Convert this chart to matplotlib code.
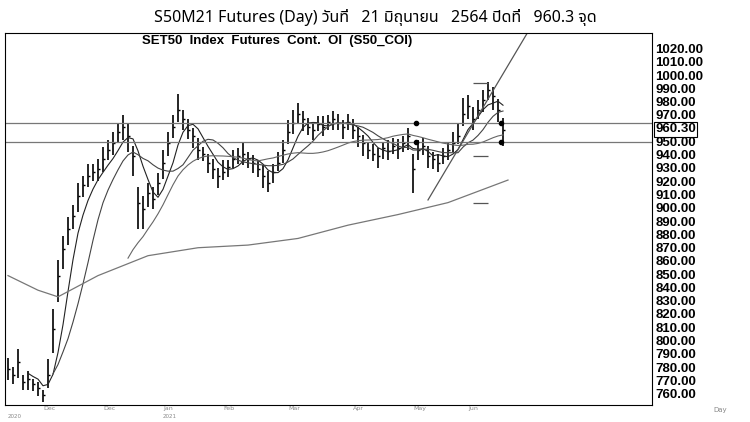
import matplotlib
matplotlib.use("Agg")
import matplotlib.pyplot as plt
import numpy as np

close = [780,775,785,770,772,768,765,760,775,810,850,870,885,895,910,918,925,928,930,938,
         945,950,958,962,955,940,905,900,912,908,920,935,950,962,975,968,960,955,945,942,
         935,930,925,928,932,938,940,942,938,935,930,925,920,928,935,945,958,965,972,968,
         962,960,964,962,966,968,965,962,966,960,955,950,945,942,940,946,944,948,946,950,
         955,930,945,948,940,938,935,940,945,950,955,972,978,968,975,982,990,985,975,960]
hi_off = [8,6,10,5,6,4,5,4,12,15,12,10,9,8,10,7,9,6,8,9,
          7,8,6,9,10,8,12,10,8,9,7,10,8,9,12,7,8,6,9,5,
          7,8,6,9,5,7,6,8,5,6,7,8,9,6,8,7,9,10,8,6,
          7,5,6,8,5,6,7,5,6,8,7,6,5,7,6,5,8,6,7,5,
          6,12,7,6,8,5,7,6,5,8,9,12,8,9,7,8,6,7,8,9]
lo_off = [9,7,12,6,8,5,6,5,10,18,20,15,12,10,12,9,8,7,9,10,
          8,9,7,10,12,15,20,15,10,8,9,12,10,8,9,8,7,9,8,6,
          8,7,9,6,8,7,6,9,7,8,6,9,7,8,6,10,9,8,7,9,
          6,8,5,7,6,8,5,9,6,7,8,10,7,6,9,8,7,6,8,7,
          10,18,8,7,9,8,7,6,8,7,6,9,10,8,7,9,8,10,9,12]
ma_long_idx = [0,6,10,18,28,38,48,58,68,78,88,100]
ma_long = [850,839,834,850,865,871,873,878,888,896,905,922]
yticks = list(range(760, 1030, 10))
months = ["Dec","Dec","Jan","Feb","Mar","Apr","May","Jun"]
month_idx = [7,19,31,43,56,69,81,92]
last_price = 960.30

fig = plt.figure(figsize=(7.5,4.22), dpi=100)
ax = fig.add_axes([5/750, 1-405/422, 647/750, 372/422])
x = np.arange(len(close))
c = np.array(close); h = c+np.array(hi_off); l = c-np.array(lo_off)
ax.vlines(x, l, h, color="black", lw=1.2)
ax.hlines(c, x, x+0.4, color="black", lw=1)
s = np.convert_to_tensor if False else None
for w, col in [(5,"#222"),(10,"#444"),(25,"#666")]:
    ma = np.convolve(c, np.ones(w)/w, mode="valid")
    ax.plot(x[w-1:], ma, color=col, lw=0.8)
ax.plot(ma_long_idx, ma_long, color="#777", lw=0.9)
ax.axhline(965, color="#777", lw=0.9)
ax.axhline(951, color="#777", lw=0.9)
ax.plot([84, 105], [907, 1040], color="#555", lw=0.9)
for yv in [995, 940, 905]:
    ax.hlines(yv, 93, 96, color="#555", lw=0.9)
for yv in [965, 951]:
    ax.plot([81.5, 98.5], [yv, yv], "o", color="black", ms=3)
ax.set_xlim(-0.6, 128.8)
ax.set_ylim(752.5, 1032.8)
ax.set_xticks([]); ax.set_yticks([])
for sp in ax.spines.values(): sp.set_linewidth(0.8)
ax.text(0.42, 0.995, "SET50  Index  Futures  Cont.  OI  (S50_COI)", transform=ax.transAxes,
        ha="center", va="top", fontsize=9.5, fontweight="bold", family="Liberation Sans")
# right price axis
for t in yticks:
    if abs(t-960) < 1: continue
    ax.text(1.005, (t-752.5)/(1032.8-752.5), f"{t:.2f}", transform=ax.transAxes,
            ha="left", va="center", fontsize=9.5, fontweight="bold", family="Liberation Sans")
ax.text(1.005, (last_price-752.5)/(1032.8-752.5), f"{last_price:.2f}", transform=ax.transAxes,
        ha="left", va="center", fontsize=9.5, fontweight="bold", family="Liberation Sans",
        bbox=dict(boxstyle="square,pad=0.1", fc="white", ec="black", lw=0.8))
for mi, m in zip(month_idx, months):
    ax.text(mi, 751.5, m, ha="left", va="top", fontsize=4.5, color="#888")
ax.text(0, 746, "2020", ha="left", va="top", fontsize=4, color="#888")
ax.text(31, 746, "2021", ha="left", va="top", fontsize=4, color="#888")
fig.text(713/750, 1-412/422, "Day", fontsize=5, color="#888")
fig.text(0.5, 1-17/422, "S50M21 Futures (Day) วันที่   21 มิถุนายน   2564 ปิดที่   960.3 จุด",
         ha="center", va="center", fontsize=11.5, family=["Noto Sans Thai","Noto Sans","DejaVu Sans"])
fig.savefig("out.png", dpi=100)
